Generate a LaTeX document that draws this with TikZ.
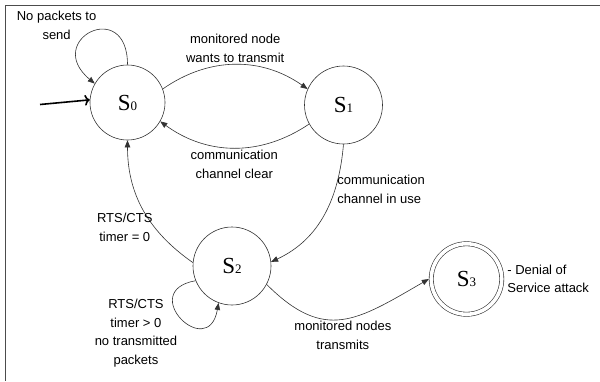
\documentclass[tikz,border=0pt]{standalone}
\usepackage{fontspec}
\setmainfont{Liberation Serif}
\setsansfont{Liberation Sans}
\usetikzlibrary{arrows.meta,positioning}
\newcommand{\sname}[1]{S{\fontsize{13pt}{13pt}\selectfont #1}}

\begin{document}
\begin{tikzpicture}[x=1pt,y=1pt,
  state/.style={circle,draw=black!80,line width=0.6pt,minimum size=78pt,inner sep=0pt,font=\fontsize{23pt}{23pt}\selectfont},
  edge/.style={draw=black!80,line width=0.6pt,-{Triangle[length=7pt,width=5.5pt]}},
  txt/.style={font=\sffamily\fontsize{13pt}{18.5pt}\selectfont,align=center,inner sep=2pt}]
\useasboundingbox (0,0) rectangle (600,-381);
\draw[black!70,line width=1pt] (600,-5) -- (5,-5) -- (5,-381);

\node[state,minimum size=75pt](s0) at (127.5,-102.5) {\sname{0}};
\node[state](s1) at (343.5,-105) {\sname{1}};
\node[state](s2) at (232,-266) {\sname{2}};
\node[state,minimum size=70.5pt,double,double distance=3.6pt,outer sep=2.4pt,
  label={[txt,align=left,label distance=1pt]right:{- Denial of\\Service attack}}](s3) at (466.5,-279) {\sname{3}};
\coordinate (init) at (40,-104.5);

\draw [->,line width=1.6pt](init) -- (s0.176);
\draw [edge](s0.90) to[out=90,in=140,looseness=4.6] node[txt,midway,xshift=-35pt,yshift=7pt] {No packets to\\send} (s0.150);
\draw [edge](s0.21) to[bend left=35] node[txt,above] {monitored node\\wants to transmit} (s1.156);
\draw [edge](s1.209) to[bend left=35] node[txt,below] {communication\\channel clear} (s0.330);
\draw [edge](s1.270) to[out=-95,in=25] node[txt,pos=0.3,anchor=west,align=left] {communication\\channel in use} (s2.6);
\draw [edge](s2.175) to[out=145,in=-90] node[txt,pos=0.35,left] {RTS/CTS\\timer = 0} (s0.270);
\draw [edge](s2.202) to[out=190,in=-100,looseness=4.8] node[txt,midway,xshift=-45pt,yshift=-15pt] {RTS/CTS\\timer > 0\\no transmitted\\packets} (s2.250);
\draw [edge](s2.-28) to[out=-45,in=-150,looseness=1.3] node[txt,midway,below] {monitored nodes\\transmits} (s3.180);
\end{tikzpicture}
\end{document}
